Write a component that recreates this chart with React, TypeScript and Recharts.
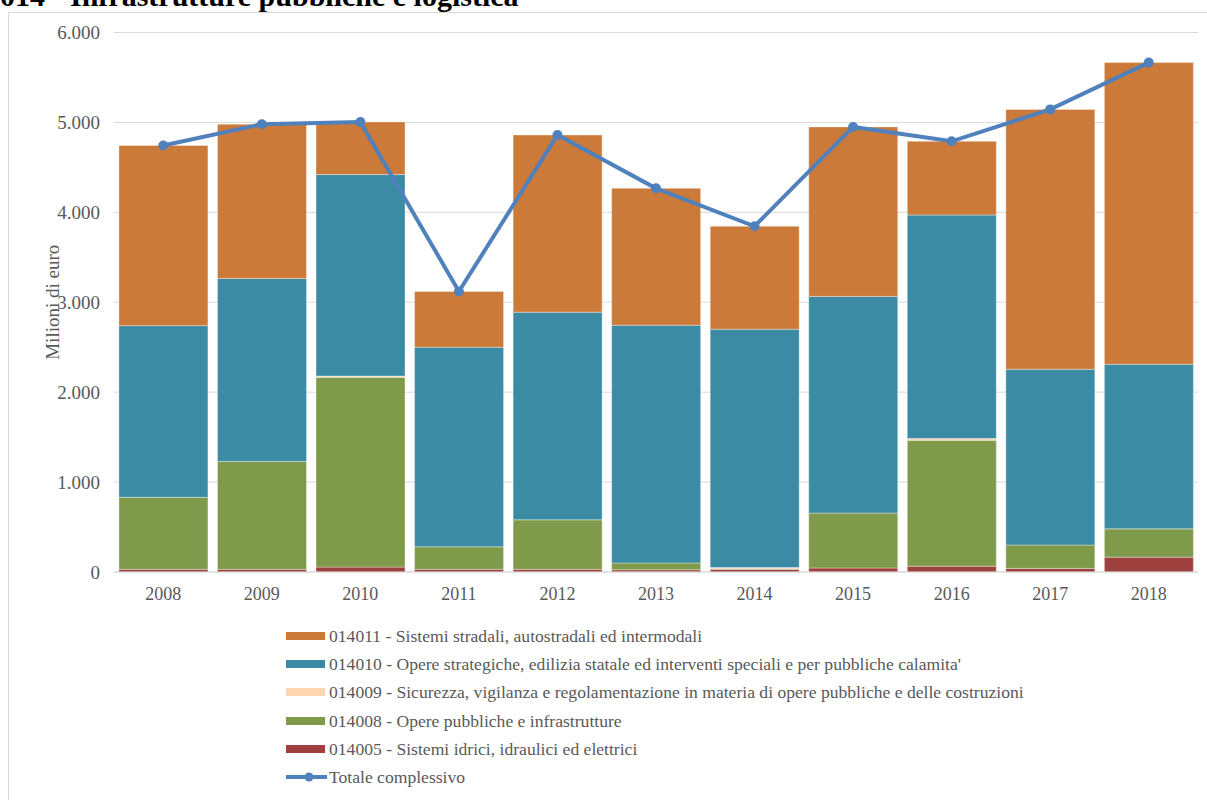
import React from "react";
import { ComposedChart, Bar, Line, XAxis, YAxis, CartesianGrid } from "recharts";

const years = ["2008", "2009", "2010", "2011", "2012", "2013", "2014", "2015", "2016", "2017", "2018"];
const s014011 = [2004, 1715, 585, 620, 1970, 1522, 1145, 1885, 820, 2890, 3355];
const s014010 = [1910, 2035, 2240, 2220, 2310, 2645, 2650, 2410, 2485, 1955, 1830];
const s014009 = [0, 0, 15, 0, 0, 0, 15, 0, 20, 0, 0];
const s014008 = [800, 1200, 2110, 250, 550, 75, 5, 610, 1400, 260, 315];
const s014005 = [30, 30, 55, 30, 30, 25, 30, 45, 65, 40, 165];
const totale = [4744, 4980, 5005, 3120, 4860, 4267, 3845, 4950, 4790, 5145, 5665];
const yTicks = [0, 1000, 2000, 3000, 4000, 5000, 6000];

const series = [
  { key: "s014011", name: "014011 - Sistemi stradali, autostradali ed intermodali", color: "#CC7A39" },
  { key: "s014010", name: "014010 - Opere strategiche, edilizia statale ed interventi speciali e per pubbliche calamita'", color: "#3C8BA4" },
  { key: "s014009", name: "014009 - Sicurezza, vigilanza e regolamentazione in materia di opere pubbliche e delle costruzioni", color: "#FDD5B1" },
  { key: "s014008", name: "014008 - Opere pubbliche e infrastrutture", color: "#7F9A4A" },
  { key: "s014005", name: "014005 - Sistemi idrici, idraulici ed elettrici", color: "#9E413E" },
];
const lineName = "Totale complessivo";
const lineColor = "#4F81BD";

const data = years.map((y, i) => ({
  year: y,
  s014011: s014011[i],
  s014010: s014010[i],
  s014009: s014009[i],
  s014008: s014008[i],
  s014005: s014005[i],
  totale: totale[i],
}));

const FONT = "'Liberation Serif', 'Times New Roman', serif";
const fmt = (v: number) => String(v).replace(/\B(?=(\d{3})+(?!\d))/g, ".");
const ROW = 28.2;

const LegendBlock = () => (
  <div style={{ position: "absolute", left: 286, top: 636 - ROW / 2, fontFamily: FONT, fontSize: 17.6, color: "#595959", whiteSpace: "nowrap" }}>
    {series.map((s) => (
      <div key={s.key} style={{ display: "flex", alignItems: "center", height: ROW }}>
        <div style={{ width: 39, height: 8, background: s.color, marginRight: 4 }} />
        <span style={{ lineHeight: "18px" }}>{s.name}</span>
      </div>
    ))}
    <div style={{ display: "flex", alignItems: "center", height: ROW }}>
      <svg width={41} height={12} style={{ marginRight: 2 }}>
        <line x1={0} y1={6} x2={41} y2={6} stroke={lineColor} strokeWidth={4} />
        <circle cx={23} cy={6} r={4.5} fill={lineColor} />
      </svg>
      <span style={{ lineHeight: "18px" }}>{lineName}</span>
    </div>
  </div>
);

export default function App() {
  const order = [...series].reverse();
  return (
    <div style={{ position: "absolute", left: 0, top: 0, width: 1207, height: 800, overflow: "hidden", background: "#fff" }}>
      <div style={{ position: "absolute", left: 8, top: 12, width: 1300, height: 900, border: "1px solid #d9d9d9", boxSizing: "border-box" }} />
      <div style={{ position: "absolute", left: 0, top: -19.1, fontFamily: FONT, fontWeight: "bold", fontSize: 30, lineHeight: "30px", whiteSpace: "nowrap", color: "#000" }}>
        014 - Infrastrutture pubbliche e logistica
      </div>
      <div style={{ position: "absolute", left: 0, top: 0 }}>
        <ComposedChart width={1207} height={800} data={data} margin={{ top: 32.5, right: 9, left: 0, bottom: 198 }} barCategoryGap="5%">
          <CartesianGrid vertical={false} stroke="#d9d9d9" strokeWidth={1} />
          <XAxis dataKey="year" interval={0} tickLine={false} tickSize={0} tickMargin={15} height={30}
            axisLine={{ stroke: "#d9d9d9" }} tick={{ fontFamily: FONT, fontSize: 18, fill: "#595959" }} />
          <YAxis domain={[0, 6000]} ticks={yTicks} interval={0} width={114} axisLine={false} tickLine={false} tickSize={0} tickMargin={14}
            tickFormatter={fmt} tick={{ fontFamily: FONT, fontSize: 19, fill: "#595959" }}
            label={{ value: "Milioni di euro", angle: -90, position: "insideLeft", offset: 52, style: { fontFamily: FONT, fontSize: 19, fill: "#595959", textAnchor: "middle" } }} />
          {order.map((s) => (
            <Bar key={s.key} dataKey={s.key} name={s.name} stackId="a" fill={s.color} stroke="#ffffff" strokeOpacity={0.35} strokeWidth={1} isAnimationActive={false} />
          ))}
          <Line dataKey="totale" name={lineName} stroke={lineColor} strokeWidth={4} dot={{ r: 5, fill: lineColor, stroke: lineColor, strokeWidth: 0 }} isAnimationActive={false} />
        </ComposedChart>
      </div>
      <LegendBlock />
    </div>
  );
}
